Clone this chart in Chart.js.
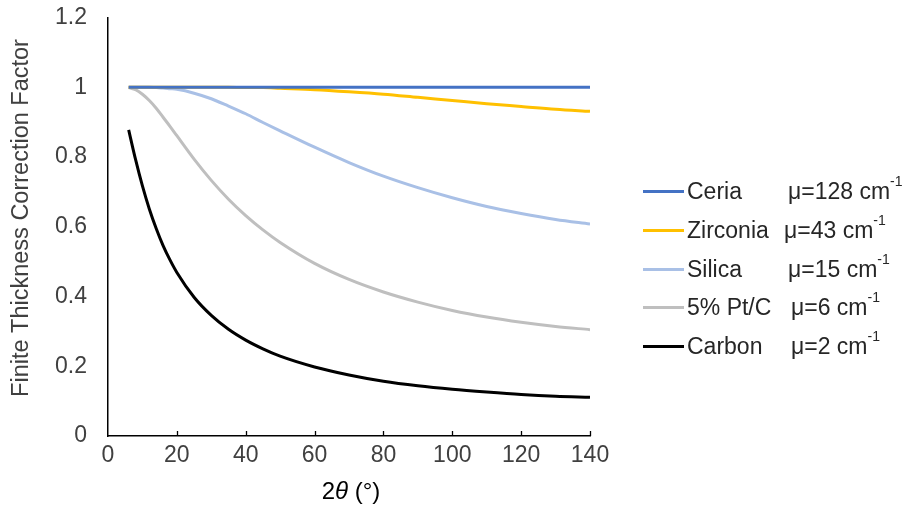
<!DOCTYPE html>
<html>
<head>
<meta charset="utf-8">
<script src="https://cdn.jsdelivr.net/npm/chart.js@4"></script>
<style>
  html, body { margin: 0; padding: 0; background: #fff; overflow: hidden; }
  #wrap { position: relative; width: 909px; height: 522px; }
  #legend {
    position: absolute; left: 643px; top: 172px;
    font-family: "Liberation Sans", Arial, sans-serif; font-size: 23px; color: #262626;
  }
  .row { position: relative; height: 38.8px; line-height: 38.8px; white-space: nowrap; }
  .swatch { position: absolute; left: 0; top: 18px; width: 41px; height: 3px; }
  .name { position: absolute; left: 44px; }
  .mu { position: absolute; }
  .mu sup { font-size: 14px; position: relative; top: -3px; vertical-align: top; line-height: 24px; }
</style>
</head>
<body>
<div id="wrap">
  <canvas id="chart" width="909" height="522"></canvas>
  <div id="legend"></div>
</div>
<script>
/* ====== DATA ====== */
const twoTheta = [6, 8, 10, 12, 14, 16, 18, 20, 25, 30, 35, 40, 45, 50, 60, 70, 80, 90, 100, 110, 120, 130, 140];

const ceria    = [1, 1, 1, 1, 1, 1, 1, 1, 1, 1, 1, 1, 1, 1, 1, 1, 1, 1, 1, 1, 1, 1, 1];
const zirconia = [1, 1, 1, 1, 1, 1, 1, 1, 1, 1, 1, 0.999, 0.999, 0.997, 0.993, 0.987, 0.980, 0.971, 0.962, 0.953, 0.945, 0.937, 0.931];
const silica   = [1, 1, 1, 1, 0.999, 0.998, 0.996, 0.994, 0.983, 0.967, 0.946, 0.924, 0.899, 0.875, 0.828, 0.784, 0.745, 0.712, 0.683, 0.658, 0.638, 0.621, 0.608];
const ptc      = [0.999, 0.993, 0.980, 0.962, 0.940, 0.914, 0.888, 0.861, 0.794, 0.733, 0.679, 0.632, 0.591, 0.555, 0.495, 0.449, 0.413, 0.384, 0.360, 0.341, 0.326, 0.314, 0.305];
const carbon   = [0.878, 0.793, 0.717, 0.651, 0.595, 0.546, 0.505, 0.469, 0.398, 0.346, 0.306, 0.275, 0.250, 0.229, 0.198, 0.175, 0.157, 0.144, 0.134, 0.126, 0.119, 0.114, 0.111];

const seriesNames = ["Ceria", "Zirconia", "Silica", "5% Pt/C", "Carbon"];
const muValues    = [128, 43, 15, 6, 2];
const seriesData  = [ceria, zirconia, silica, ptc, carbon];
const colors      = ["#4472C4", "#FFC000", "#A9C0E6", "#BFBFBF", "#000000"];

const xTicks = [0, 20, 40, 60, 80, 100, 120, 140];
const yTicks = [0, 0.2, 0.4, 0.6, 0.8, 1, 1.2];

const FONT = '"Liberation Sans", Arial, sans-serif';
const TEXT = "#404040";

/* ====== LEGEND (html, for the superscripts) ====== */
const muLeft = [145, 141, 145, 148, 148];
const legend = document.getElementById("legend");
seriesNames.forEach((name, i) => {
    legend.innerHTML +=
        `<div class="row">` +
        `<span class="swatch" style="background:${colors[i]}"></span>` +
        `<span class="name">${name}</span>` +
        `<span class="mu" style="left:${muLeft[i]}px">μ=${muValues[i]} cm<sup>-1</sup></span>` +
        `</div>`;
});

/* ====== AXIS EXTRAS: inward x ticks + titles ====== */
const axisExtras = {
    id: "axisExtras",
    afterDraw(chart) {
        const ctx = chart.ctx;
        const x = chart.scales.x;
        const area = chart.chartArea;

        ctx.save();
        ctx.strokeStyle = "#000";
        ctx.lineWidth = 1.3;
        xTicks.slice(1).forEach(v => {
            const px = Math.round(x.getPixelForValue(v)) + 0.5;
            ctx.beginPath();
            ctx.moveTo(px, area.bottom);
            ctx.lineTo(px, area.bottom - 5);
            ctx.stroke();
        });

        // x title: 2θ (°) with italic theta
        ctx.fillStyle = "#000";
        ctx.textBaseline = "alphabetic";
        const parts = [
            { t: "2", f: `24px ${FONT}` },
            { t: "θ", f: `italic 24px ${FONT}` },
            { t: " (°)", f: `24px ${FONT}` }
        ];
        let total = 0;
        parts.forEach(p => { ctx.font = p.f; p.w = ctx.measureText(p.t).width; total += p.w; });
        let cx = (area.left + area.right) / 2 - total / 2 + 2;
        parts.forEach(p => { ctx.font = p.f; ctx.fillText(p.t, cx, 499); cx += p.w; });

        // y title
        ctx.translate(22, 218);
        ctx.rotate(-Math.PI / 2);
        ctx.font = `23.5px ${FONT}`;
        ctx.fillStyle = TEXT;
        ctx.textAlign = "center";
        ctx.textBaseline = "middle";
        ctx.fillText("Finite Thickness Correction Factor", 0, 0);
        ctx.restore();
    }
};

/* ====== CHART ====== */
new Chart(document.getElementById("chart"), {
    type: "line",
    data: {
        datasets: seriesNames.map((name, i) => ({
            label: name,
            data: twoTheta.map((t, j) => ({ x: t, y: seriesData[i][j] })),
            borderColor: colors[i],
            borderWidth: 3,
            pointRadius: 0,
            cubicInterpolationMode: "monotone",
            fill: false
        }))
    },
    options: {
        responsive: false,
        animation: false,
        layout: { padding: { left: 0, right: 319, top: 17.5, bottom: 0 } },
        plugins: { legend: { display: false }, tooltip: { enabled: false } },
        scales: {
            x: {
                type: "linear",
                min: 0, max: 140,
                afterBuildTicks: s => { s.ticks = xTicks.map(v => ({ value: v })); },
                afterFit: s => { s.height = 86; s.paddingLeft = 0; s.paddingRight = 0; },
                grid: { display: false, drawTicks: false },
                border: { display: true, color: "#000", width: 1.5 },
                ticks: { color: TEXT, font: { family: FONT, size: 23 }, padding: 6, maxRotation: 0 }
            },
            y: {
                min: 0, max: 1.2,
                afterBuildTicks: s => { s.ticks = yTicks.map(v => ({ value: v })); },
                afterFit: s => { s.width = 108; s.paddingTop = 0; s.paddingBottom = 0; },
                grid: { display: false, drawTicks: false },
                border: { display: true, color: "#000", width: 1.5 },
                ticks: {
                    color: TEXT, font: { family: FONT, size: 23 }, padding: 21,
                    callback: v => String(v)
                }
            }
        }
    },
    plugins: [axisExtras]
});
</script>
</body>
</html>
